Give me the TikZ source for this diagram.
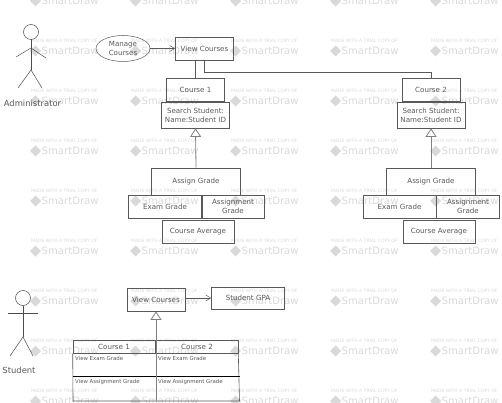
\documentclass[tikz,border=0pt]{standalone}
\usepackage{fontspec}
\setmainfont{DejaVu Sans}
\usetikzlibrary{arrows.meta,shapes.geometric}
\definecolor{markgray}{gray}{0.85}
\definecolor{linegray}{gray}{0.35}
\tikzset{
  box/.style={draw=linegray,line width=0.7pt,minimum width=#1,inner sep=0pt,align=center,font=\fontsize{7.1}{9}\selectfont,text=black!65},
  box/.default=60pt,
  gen/.style={-{Triangle[open,fill=white,length=8.5pt,width=11pt]},draw=gray,line width=0.8pt},
  assoc/.style={-{Straight Barb[length=5pt,width=6pt]},draw=linegray,line width=0.5pt},
  link/.style={draw=linegray,line width=0.6pt},
  stick/.style={draw=black!70,line width=0.5pt},
  actor/.style={font=\fontsize{8.4}{9}\selectfont,text=black!65,inner sep=0pt},
  smalltext/.style={font=\fontsize{5.4}{6}\selectfont,text=black!65,inner sep=0pt,anchor=west},
  tabhead/.style={draw=linegray,line width=0.6pt,minimum width=82pt,minimum height=13pt,inner sep=0pt,font=\fontsize{7.1}{8}\selectfont,text=black!65},
}
\begin{document}
\begin{tikzpicture}[x=1pt,y=-1pt]
\useasboundingbox (0,0) rectangle (502,403);

% watermark
\foreach \row in {0,...,8}{
  \foreach \col in {0,...,4}{
    \node[text=markgray,font=\fontsize{4.5}{5}\selectfont,inner sep=0pt,anchor=west] (mark\row\col) at (31+100*\col,-9+50*\row) {MADE WITH A TRIAL COPY OF};
    \node[text=markgray,font=\fontsize{10.1}{11}\selectfont,inner sep=0pt,anchor=west] (logo\row\col) at (41.5+100*\col,1+50*\row) {SmartDraw};
    \fill[markgray] (35.5+100*\col,-4.5+50*\row) -- ++(5.5,5.5) -- ++(-5.5,5.5) -- ++(-5.5,-5.5) -- cycle;
  }
}

% Administrator
\draw[stick] (31,32) circle (7.5);
\coordinate (neck1) at (31,39.5);
\coordinate (hip1) at (31,70);
\draw[stick] (neck1) -- (hip1);
\draw[stick] (16,57) -- (31,48) -- (46,58);
\draw[stick] (18,88) -- (hip1) -- (42,88);
\node[actor] (admin) at (32.5,103.5) {Administrator};

% top row
\node[draw=linegray,ellipse,minimum width=54pt,minimum height=26pt,inner sep=0pt,line width=0.5pt,align=center,font=\fontsize{7.1}{9}\selectfont,text=black!65] (manage) at (123,48.5) {Manage\\Courses};
\node[box=58pt,minimum height=23pt] (view1) at (204.5,48.5) {View Courses};
\draw[assoc] (manage) -- (view1);

% left column
\node[box=58pt,minimum height=23pt] (course1) at (195.5,90) {Course 1};
\node[box=68pt,minimum height=26pt] (search1) at (195.5,115) {Search Student:\\Name:Student ID};
\node[box=89pt,minimum height=27pt] (assign1) at (196,181.5) {Assign Grade};
\node[box=74pt,minimum height=23pt] (exam1) at (165,206.5) {Exam Grade};
\node[box=63pt,minimum height=23pt] (asgn1) at (233,206.5) {Assignment\\Grade};
\node[box=72pt,minimum height=23pt] (avg1) at (198,231.5) {Course Average};
\draw[link] (course1.north) -- (course1.north |- view1.south);
\draw[gen] (assign1.north) -- (search1.south);

% right column
\node[box=58pt,minimum height=23pt] (course2) at (431,90) {Course 2};
\node[box=68pt,minimum height=26pt] (search2) at (431,115) {Search Student:\\Name:Student ID};
\node[box=89pt,minimum height=27pt] (assign2) at (431,181.5) {Assign Grade};
\node[box=73pt,minimum height=23pt] (exam2) at (399.5,206.5) {Exam Grade};
\node[box=63pt,minimum height=23pt] (asgn2) at (468,206.5) {Assignment\\Grade};
\node[box=72pt,minimum height=23pt] (avg2) at (439,231.5) {Course Average};
\draw[link] (view1.south) -- ++(0,12) -| (course2.north);
\draw[gen] (assign2.north) -- (search2.south);

% Student
\draw[stick] (23,298) circle (7.5);
\coordinate (hip2) at (23,337);
\draw[stick] (23,305.5) -- (hip2);
\draw[stick] (8,313) -- (38,313);
\draw[stick] (10,356) -- (hip2) -- (33,356);
\node[actor] (student) at (19,370.5) {Student};

% bottom row
\node[box=58pt,minimum height=23pt] (view2) at (156,299.5) {View Courses};
\node[box=73pt,minimum height=22pt] (gpa) at (248,298) {Student GPA};
\draw[assoc] (view2.east |- gpa) -- (gpa);

% course table
\node[tabhead] (tab1) at (114,346.5) {Course 1};
\node[tabhead] (tab2) at (197,346.5) {Course 2};
\draw[link] (tab1.south west) -- (73,401) -- (239.5,401) -- (tab2.south east);
\draw[draw=black,line width=0.6pt] (73,376.5) coordinate (rowL) -- (239.5,376.5) coordinate (rowR);
\coordinate (split) at (156,401);
\draw[gen] (split) -- (view2.south);
\node[smalltext] (exam3) at (75,358.5) {View Exam Grade};
\node[smalltext] (asgn3) at (75,382) {View Assignment Grade};
\node[smalltext] (exam4) at (158,358.5) {View Exam Grade};
\node[smalltext] (asgn4) at (158,382) {View Assignment Grade};
\end{tikzpicture}
\end{document}
